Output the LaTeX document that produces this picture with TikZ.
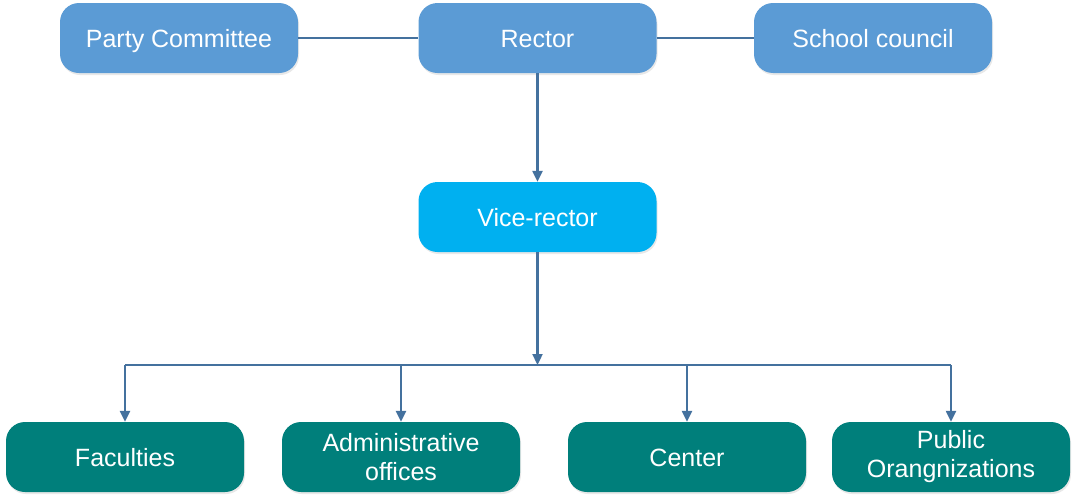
\documentclass[tikz,border=0pt]{standalone}
\usepackage{fontspec}
\setmainfont{Liberation Sans}
\usetikzlibrary{arrows.meta,shadows}
\definecolor{topblue}{HTML}{5B9BD5}
\definecolor{vicecol}{HTML}{00B0F0}
\definecolor{botteal}{HTML}{007F7B}
\definecolor{linecol}{HTML}{44719E}
\begin{document}
\begin{tikzpicture}[x=1pt,y=-1pt,
  box/.style={rectangle, rounded corners=19pt, minimum width=238pt, minimum height=70pt,
    inner sep=0pt, text=white, font=\fontsize{25}{29}\selectfont, align=center,
    drop shadow={opacity=0.18, shadow xshift=1pt, shadow yshift=-2pt}},
  oneline/.style={text height=18pt, text depth=0pt},
  conn/.style={draw=linecol, line width=2.3pt},
  arr/.style={conn, -{Triangle[width=10pt,length=11pt]}}]
\useasboundingbox (0,0) rectangle (1077,501);
\node[box, oneline, fill=topblue] (party) at (179,38) {Party Committee};
\node[box, oneline, fill=topblue] (rector) at (537.5,38) {Rector};
\node[box, oneline, fill=topblue] (school) at (873,38) {School council};
\node[box, oneline, fill=vicecol] (vice) at (537.5,217) {Vice-rector};
\node[box, oneline, fill=botteal] (fac) at (125,457) {Faculties};
\node[box, fill=botteal] (adm) at (401,457) {Administrative\\offices};
\node[box, oneline, fill=botteal] (cen) at (687,457) {Center};
\node[box, fill=botteal] (pub) at (951,457) {Public\\Orangnizations};
\coordinate (bus) at (537.5,365);
\draw[conn] (party) -- (rector);
\draw[conn] (rector) -- (school);
\draw[arr] (rector) -- (vice);
\draw[arr] (vice) -- (bus);
\draw[conn] (fac.north |- bus) -- (pub.north |- bus);
\foreach \n in {fac,adm,cen,pub} \draw[arr] (\n.north |- bus) -- (\n);
\end{tikzpicture}
\end{document}
